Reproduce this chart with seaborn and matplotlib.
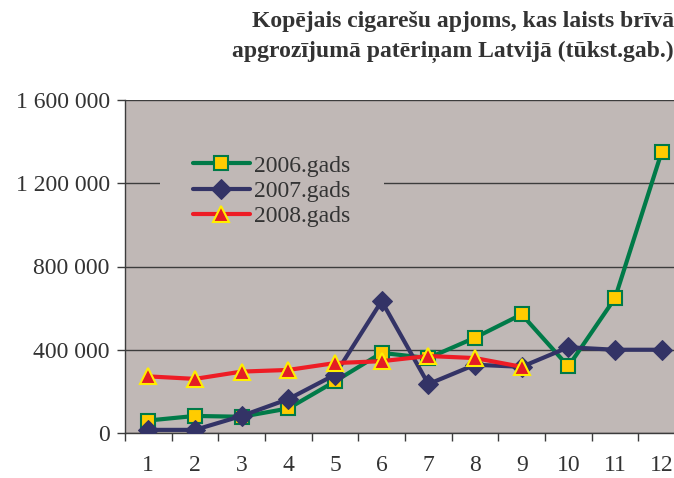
import numpy as np
import pandas as pd
import matplotlib
matplotlib.use('Agg')
import matplotlib.pyplot as plt
import seaborn as sns
from matplotlib.ticker import FuncFormatter, FixedLocator

# Data (thousand pieces per month)
months = list(range(1, 13))
sales_2006 = [60000, 82000, 78000, 118000, 248000, 385000, 360000, 458000, 570000, 320000, 648000, 1350000]
sales_2007 = [15000, 15000, 82000, 163000, 280000, 634000, 235000, 328000, 318000, 412000, 400000, 400000]
sales_2008 = [272000, 260000, 295000, 303000, 336000, 345000, 370000, 360000, 318000]
labels = ['2006.gads', '2007.gads', '2008.gads']
title_lines = ['Kopējais cigarešu apjoms, kas laists brīvā',
               'apgrozījumā patēriņam Latvijā (tūkst.gab.)']

sns.set_theme(style='white')
plt.rcParams['font.family'] = ['Liberation Serif', 'DejaVu Serif']

bg = '#c0b8b6'
fig = plt.figure(figsize=(6.74, 4.78), dpi=100)
ax = fig.add_axes([125 / 674, 45 / 478, 560 / 674, 333 / 478])
ax.set_facecolor(bg)

df6 = pd.DataFrame({'month': months, 'value': sales_2006})
df7 = pd.DataFrame({'month': months, 'value': sales_2007})
df8 = pd.DataFrame({'month': months[:len(sales_2008)], 'value': sales_2008})

sns.lineplot(data=df6, x='month', y='value', ax=ax, color='#007a48', lw=3,
             marker='s', markersize=10, markerfacecolor='#ffcc00',
             markeredgecolor='#007a48', markeredgewidth=1.5, label=labels[0], zorder=3)
sns.lineplot(data=df7, x='month', y='value', ax=ax, color='#333366', lw=3,
             marker='D', markersize=10, markerfacecolor='#333366',
             markeredgecolor='#333366', label=labels[1], zorder=4)
sns.lineplot(data=df8, x='month', y='value', ax=ax, color='#ee1c25', lw=3,
             marker='^', markersize=12, markerfacecolor='#e41c24',
             markeredgecolor='#ffee00', markeredgewidth=1.5, label=labels[2], zorder=5)

ax.set_xlim(0.5, 12.5)
ax.set_ylim(0, 1600000)
ax.set_xlabel('')
ax.set_ylabel('')

ax.yaxis.set_major_locator(FixedLocator([0, 400000, 800000, 1200000, 1600000]))
ax.yaxis.set_major_formatter(FuncFormatter(lambda v, p: f'{int(v):,}'.replace(',', ' ')))
ax.grid(axis='y', color='#3c3c3c', lw=1)
ax.set_axisbelow(True)

ax.xaxis.set_major_locator(FixedLocator(np.arange(0.5, 13, 1)))
ax.xaxis.set_major_formatter(FuncFormatter(lambda v, p: ''))
ax.xaxis.set_minor_locator(FixedLocator(months))
ax.xaxis.set_minor_formatter(FuncFormatter(lambda v, p: str(int(round(v)))))
ax.tick_params(axis='x', which='major', direction='out', length=6, width=1, color='#3c3c3c', bottom=True)
ax.tick_params(axis='x', which='minor', length=0, labelsize=17, pad=16, labelcolor='#333333', bottom=True)
ax.tick_params(axis='y', direction='out', length=6, width=1, color='#3c3c3c', labelsize=17,
               labelcolor='#333333', left=True, pad=5)

for s in ['top', 'right']:
    ax.spines[s].set_visible(False)
for s in ['left', 'bottom']:
    ax.spines[s].set_color('#3c3c3c')
    ax.spines[s].set_linewidth(1)

leg = ax.legend(loc='upper left', bbox_to_anchor=(160 / 674, 1 - 122 / 478),
                bbox_transform=fig.transFigure, fontsize=17, frameon=True,
                facecolor=bg, edgecolor='none', framealpha=1, handlelength=2.4,
                handletextpad=0.2, labelspacing=0.16, borderpad=1.4, borderaxespad=0)
for t in leg.get_texts():
    t.set_color('#333333')

fig.text(252 / 674, 1 - 22 / 478, title_lines[0], fontsize=17, fontweight='bold',
         color='#333333', ha='left', va='center')
fig.text(232 / 674, 1 - 52 / 478, title_lines[1], fontsize=17, fontweight='bold',
         color='#333333', ha='left', va='center')

fig.savefig('out.png', dpi=100, facecolor='white')
